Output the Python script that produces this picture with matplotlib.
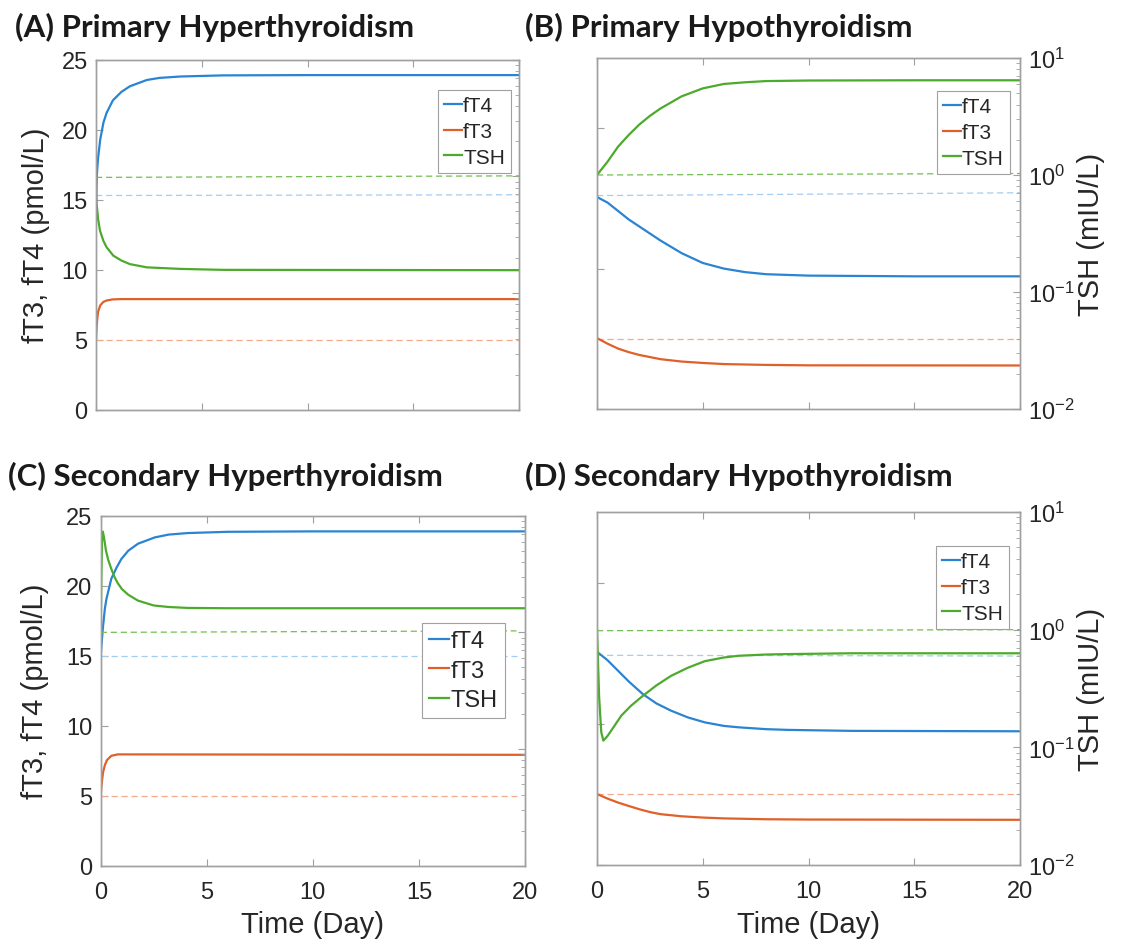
import matplotlib
matplotlib.use("Agg")
import matplotlib.pyplot as plt
from matplotlib.ticker import LogLocator, NullFormatter

plt.rcParams['font.family'] = ['Liberation Sans', 'DejaVu Sans']
plt.rcParams['mathtext.default'] = 'regular'
plt.rcParams['axes.unicode_minus'] = False

W, H = 1126, 945

# ---------------- data ----------------
days = [0, 5, 10, 15, 20]
conc_ticks = [0, 5, 10, 15, 20, 25]
conc_ticks_r = [0, 10, 20]
names = ['fT4', 'fT3', 'TSH']

# (A) Primary Hyperthyroidism
a_ft4_t = [0, 0.05, 0.1, 0.2, 0.35, 0.5, 0.8, 1.2, 1.6, 2.4, 3, 4, 6, 10, 20]
a_ft4 = [15.3, 17.0, 18.0, 19.3, 20.5, 21.2, 22.1, 22.7, 23.1, 23.55, 23.7, 23.8, 23.88, 23.9, 23.9]
a_ft3_t = [0, 0.03, 0.06, 0.1, 0.2, 0.35, 0.5, 0.8, 1.2, 20]
a_ft3 = [5.0, 5.9, 6.5, 7.0, 7.45, 7.7, 7.8, 7.88, 7.9, 7.9]
a_tsh_t = [0, 0.03, 0.1, 0.19, 0.35, 0.5, 0.82, 1.2, 1.6, 2.4, 4, 6, 20]
a_tsh = [1.0, 0.58, 0.43, 0.342, 0.28, 0.247, 0.209, 0.19, 0.177, 0.166, 0.161, 0.158, 0.157]
a_ref_t = [0, 20]
a_ref_ft4 = [15.3, 15.35]
a_ref_ft3 = [5.0, 5.0]
a_ref_tsh = [0.98, 1.01]

# (B) Primary Hypothyroidism
b_ft4_t = [0, 0.5, 1, 1.5, 2, 2.5, 3, 4, 5, 6, 7, 8, 10, 15, 20]
b_ft4 = [15.1, 14.7, 14.1, 13.5, 13.0, 12.5, 12.0, 11.1, 10.4, 10.0, 9.75, 9.6, 9.5, 9.45, 9.45]
b_ft3_t = [0, 0.5, 1, 1.5, 2, 2.5, 3, 4, 5, 6, 8, 10, 20]
b_ft3 = [5.05, 4.65, 4.3, 4.05, 3.85, 3.7, 3.55, 3.38, 3.28, 3.2, 3.14, 3.11, 3.1]
b_tsh_t = [0, 0.5, 1, 1.5, 2, 2.5, 3, 4, 5, 6, 7, 8, 10, 15, 20]
b_tsh = [1.0, 1.3, 1.75, 2.2, 2.7, 3.2, 3.7, 4.7, 5.5, 6.0, 6.2, 6.35, 6.42, 6.45, 6.45]
b_ref_t = [0, 20]
b_ref_ft4 = [15.2, 15.4]
b_ref_ft3 = [5.0, 5.0]
b_ref_tsh = [1.0, 1.03]

# (C) Secondary Hyperthyroidism
c_ft4_t = [0, 0.05, 0.11, 0.2, 0.27, 0.5, 0.75, 0.97, 1.3, 1.76, 2.55, 3.2, 4.1, 6, 10, 20]
c_ft4 = [15.0, 16.0, 17.1, 18.4, 19.05, 20.5, 21.3, 21.9, 22.5, 23.0, 23.45, 23.65, 23.76, 23.85, 23.88, 23.88]
c_ft3_t = [0, 0.05, 0.11, 0.2, 0.3, 0.5, 0.8, 1.2, 20]
c_ft3 = [5.0, 5.9, 6.67, 7.2, 7.55, 7.85, 7.95, 7.95, 7.92]
c_tsh_t = [0, 0.03, 0.06, 0.1, 0.15, 0.25, 0.35, 0.5, 0.66, 0.8, 1.0, 1.3, 1.76, 2.5, 3.2, 4.1, 6, 20]
c_tsh = [1.0, 3.0, 6.0, 7.3, 6.6, 5.0, 4.2, 3.5, 2.96, 2.65, 2.35, 2.1, 1.87, 1.7, 1.65, 1.62, 1.61, 1.61]
c_ref_t = [0, 19.6]
c_ref_ft4 = [15.0, 15.0]
c_ref_ft3 = [5.0, 5.0]
c_ref_tsh = [1.0, 1.03]

# (D) Secondary Hypothyroidism
d_ft4_t = [0, 0.5, 1, 1.5, 2.17, 2.8, 3.5, 4.3, 5.1, 6, 6.7, 8, 9, 12, 20]
d_ft4 = [15.1, 14.5, 13.75, 13.0, 12.1, 11.45, 10.93, 10.45, 10.1, 9.85, 9.75, 9.62, 9.57, 9.5, 9.47]
d_ft3_t = [0, 0.5, 1, 1.5, 2, 2.5, 3, 4, 5, 6, 8, 10, 20]
d_ft3 = [5.03, 4.7, 4.42, 4.18, 3.95, 3.75, 3.6, 3.45, 3.36, 3.3, 3.24, 3.22, 3.2]
d_tsh_t = [0, 0.1, 0.2, 0.3, 0.5, 0.8, 1.15, 1.6, 2.17, 2.8, 3.5, 4.3, 5.1, 6, 6.7, 8, 9, 12, 20]
d_tsh = [1.0, 0.27, 0.135, 0.114, 0.125, 0.15, 0.186, 0.225, 0.274, 0.335, 0.405, 0.475, 0.54, 0.58, 0.60, 0.615, 0.62, 0.63, 0.63]
d_ref_t = [0, 20]
d_ref_ft4 = [14.85, 14.8]
d_ref_ft3 = [5.05, 5.05]
d_ref_tsh = [0.98, 1.0]

# ---------------- style ----------------
col_t4, col_t3, col_tsh = '#2a84d2', '#e0602a', '#4caa2c'
col_t4_ref, col_t3_ref, col_tsh_ref = '#a3cdf1', '#f3ab8c', '#74bf53'
frame_c = '#a0a0a0'
text_c = '#262626'

fig = plt.figure(figsize=(W / 100, H / 100), dpi=100)


def panel(box, title, title_xy, ft4, ft3, tsh, refs, left, bottom, leg_xy, leg_fs, ylab_x):
    x0, x1, y0, y1 = box
    ax = fig.add_axes([x0 / W, 1 - y1 / H, (x1 - x0) / W, (y1 - y0) / H])
    ax2 = ax.twinx()

    ref_t, r4, r3, rt = refs
    ax.plot(ref_t, r4, color=col_t4_ref, lw=0.9, dashes=(5, 3))
    ax.plot(ref_t, r3, color=col_t3_ref, lw=0.9, dashes=(5, 3))
    ax2.plot(ref_t, rt, color=col_tsh_ref, lw=0.9, dashes=(5, 3))
    l1, = ax.plot(ft4[0], ft4[1], color=col_t4, lw=1.6)
    l2, = ax.plot(ft3[0], ft3[1], color=col_t3, lw=1.6)
    l3, = ax2.plot(tsh[0], tsh[1], color=col_tsh, lw=1.6)

    ax.set_xlim(0, 20)
    ax.set_ylim(0, 25)
    ax2.set_yscale('log')
    ax2.set_ylim(1e-2, 1e1)
    ax.set_xticks(days)
    ax2.yaxis.set_major_locator(LogLocator(base=10))
    ax2.yaxis.set_minor_locator(LogLocator(base=10, subs=range(2, 10)))
    ax2.yaxis.set_minor_formatter(NullFormatter())

    for a in (ax, ax2):
        for s in a.spines.values():
            s.set_color(frame_c)
            s.set_linewidth(1.0)
    ax.tick_params(axis='x', direction='in', top=True, length=5, color=frame_c,
                   labelcolor=text_c, labelsize=17, pad=11, labelbottom=bottom)
    ax.tick_params(axis='y', direction='in', length=5, color=frame_c,
                   labelcolor=text_c, labelsize=17, pad=6, labelleft=left)
    ax2.tick_params(axis='y', which='major', direction='in', length=5, color=frame_c,
                    labelcolor=text_c, labelsize=17, pad=6, labelright=not left)
    ax2.tick_params(axis='y', which='minor', direction='in', length=3, color=frame_c)

    if left:
        ax.set_yticks(conc_ticks)
        ax.set_ylabel('fT3, fT4 (pmol/L)', fontsize=21, color=text_c)
        ax.yaxis.set_label_coords(ylab_x, 0.5)
    else:
        ax.set_yticks(conc_ticks_r)
        ax2.set_ylabel('TSH (mIU/L)', fontsize=21, color=text_c)
        ax2.yaxis.set_label_coords(ylab_x, 0.5)
    if bottom:
        ax.set_xlabel('Time (Day)', fontsize=21, color=text_c)
        ax.xaxis.set_label_coords(0.5, -0.128)

    leg = ax2.legend([l1, l2, l3], names, loc='upper left',
                     bbox_to_anchor=(leg_xy[0] / W, 1 - leg_xy[1] / H),
                     bbox_transform=fig.transFigure, borderaxespad=0,
                     fancybox=False, framealpha=1, edgecolor=frame_c,
                     fontsize=leg_fs, handlelength=0.85, handletextpad=0.05,
                     borderpad=0.3, labelspacing=0.32)
    leg.get_frame().set_linewidth(0.8)
    for t in leg.get_texts():
        t.set_color(text_c)

    fig.text(title_xy[0] / W, 1 - title_xy[1] / H, title, fontsize=22.5,
             fontweight='bold', family='Lato', va='baseline', color='#1a1a1a')
    return ax, ax2


panel((96, 519, 60.7, 410.7), '(A) Primary Hyperthyroidism', (15, 36.6),
      (a_ft4_t, a_ft4), (a_ft3_t, a_ft3), (a_tsh_t, a_tsh),
      (a_ref_t, a_ref_ft4, a_ref_ft3, a_ref_tsh), True, False, (438, 91), 15, -0.109)
panel((597, 1020, 59, 410), '(B) Primary Hypothyroidism', (525, 36.6),
      (b_ft4_t, b_ft4), (b_ft3_t, b_ft3), (b_tsh_t, b_tsh),
      (b_ref_t, b_ref_ft4, b_ref_ft3, b_ref_tsh), False, False, (937, 92), 15, 1.135)
panel((100.7, 525, 516.7, 866.7), '(C) Secondary Hyperthyroidism', (8, 485.8),
      (c_ft4_t, c_ft4), (c_ft3_t, c_ft3), (c_tsh_t, c_tsh),
      (c_ref_t, c_ref_ft4, c_ref_ft3, c_ref_tsh), True, True, (422, 624), 17, -0.121)
panel((597, 1020, 513, 866), '(D) Secondary Hypothyroidism', (525, 485.8),
      (d_ft4_t, d_ft4), (d_ft3_t, d_ft3), (d_tsh_t, d_tsh),
      (d_ref_t, d_ref_ft4, d_ref_ft3, d_ref_tsh), False, True, (936, 547), 15, 1.135)

fig.savefig('out.png', dpi=100, facecolor='white')
